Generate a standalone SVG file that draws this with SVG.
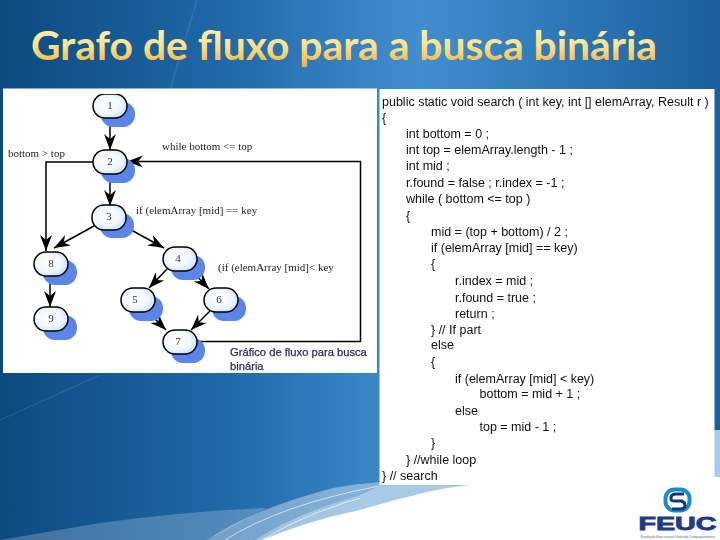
<svg xmlns="http://www.w3.org/2000/svg" width="720" height="540" viewBox="0 0 720 540">
<defs>
<linearGradient id="bg" x1="0" y1="0" x2="1" y2="0"><stop offset="0" stop-color="#0b4a80"/><stop offset="0.3" stop-color="#1f67a6"/><stop offset="0.58" stop-color="#418fcf"/><stop offset="1" stop-color="#1a5f9c"/></linearGradient>
<linearGradient id="title" x1="0" y1="0" x2="0" y2="1"><stop offset="0" stop-color="#fdf6c4"/><stop offset="0.55" stop-color="#fbe18a"/><stop offset="1" stop-color="#f3ab2e"/></linearGradient>
<radialGradient id="node" cx="0.42" cy="0.45" r="0.7"><stop offset="0" stop-color="#ffffff"/><stop offset="0.55" stop-color="#f0f7fe"/><stop offset="1" stop-color="#b8d9f5"/></radialGradient>
<marker id="a" markerWidth="17" markerHeight="14" refX="16" refY="7" orient="auto" markerUnits="userSpaceOnUse"><path d="M0,1 L16,7 L0,13 L5,7 Z" fill="#000"/></marker>
<filter id="soft" x="0" y="0" width="1" height="1"><feGaussianBlur stdDeviation="0.35"/></filter>
</defs>
<style>
.n{fill:url(#node);stroke:#000;stroke-width:1.5}
.s{fill:#5b85ea}
.nt{font:11px "Liberation Serif",serif;fill:#333;text-anchor:middle}
.l{font:11px "Liberation Serif",serif;fill:#222}
.c{font:12.5px "Liberation Sans",sans-serif;fill:#111}
.cap{font:11.2px "Liberation Sans",sans-serif;fill:#2a2a6a;stroke:#2a2a6a;stroke-width:0.25}
.e{fill:none;stroke:#000;stroke-width:1.5;marker-end:url(#a)}
</style>
<rect width="720" height="540" fill="url(#bg)"/>
<path d="M197,0 L170,90" stroke="#6aa6dc" stroke-opacity="0.2" stroke-width="2" fill="none"/>
<path d="M0,420 L100,375" stroke="#6aa6dc" stroke-opacity="0.25" stroke-width="1" fill="none"/>
<path d="M0,540 L100,523 Q187,511 267,508 L207,540 Z" fill="#fff" opacity="0.22"/>
<path d="M207,540 Q250,510 333,488 Q355,484 380,482 V510 L262,540 Z" fill="#fff" opacity="0.38"/>
<path d="M255,540 Q300,510 380,490 V510 L262,540 Z" fill="#fff" opacity="0.3"/>
<path d="M225,540 Q280,505 379,486 M262,540 Q310,510 379,493" fill="none" stroke="#fff" stroke-opacity="0.8" stroke-width="0.8"/>
<path d="M360,510 L470,486 H380 L360,495 Z" fill="#a9cbe6"/>
<path d="M714,430 L720,430 V477 H714 Z" fill="#a9cde8"/>
<path d="M262,540 Q310,520 360,510 Q393,500 427,492 Q450,487 470,485 H714 V477 H720 V540 Z" fill="#fff"/>
<text x="31" y="60" font-family="Lato,'Open Sans',sans-serif" font-weight="700" font-size="41" fill="url(#title)" textLength="626" lengthAdjust="spacingAndGlyphs">Grafo de fluxo para a busca binária</text>
<rect x="3" y="88.500" width="374" height="284.500" fill="#fff"/>
<rect x="379.500" y="89" width="335" height="396.500" fill="#fff"/>
<g filter="url(#soft)">
<g id="connectors">
<path class="e" d="M110,118 V150"/>
<path class="e" d="M110,174 V206"/>
<path class="e" d="M93,162 H46 V251"/>
<path class="e" d="M94,226 L54,248"/>
<path class="e" d="M124,226 L164,248"/>
<path class="e" d="M50,276 V307"/>
<path class="e" d="M167,269 L149,288"/>
<path class="e" d="M190,269 L209,289"/>
<path class="e" d="M147,311 L166,330"/>
<path class="e" d="M210,311 L191,330"/>
<path class="e" d="M197,341.500 H360.500 V161.500 H127"/>
</g>
<g id="node1"><rect class="s" x="101" y="102" width="34" height="25" rx="12"/><rect class="n" x="93" y="94" width="34" height="24" rx="12"/><text class="nt" x="110" y="109">1</text></g>
<g id="node2"><rect class="s" x="101" y="158" width="34" height="25" rx="12"/><rect class="n" x="93" y="150" width="34" height="24" rx="12"/><text class="nt" x="110" y="165">2</text></g>
<g id="node3"><rect class="s" x="100" y="213" width="34" height="25" rx="12"/><rect class="n" x="92" y="205" width="34" height="25" rx="12"/><text class="nt" x="109" y="220">3</text></g>
<g id="node4"><rect class="s" x="171" y="255" width="34" height="25" rx="12"/><rect class="n" x="163" y="247" width="34" height="24" rx="12"/><text class="nt" x="178" y="262">4</text></g>
<g id="node5"><rect class="s" x="129" y="296" width="34" height="25" rx="12"/><rect class="n" x="121" y="288" width="34" height="24" rx="12"/><text class="nt" x="135" y="303">5</text></g>
<g id="node6"><rect class="s" x="212" y="296" width="34" height="25" rx="12"/><rect class="n" x="204" y="288" width="34" height="24" rx="12"/><text class="nt" x="219" y="303">6</text></g>
<g id="node7"><rect class="s" x="171" y="338" width="34" height="25" rx="12"/><rect class="n" x="163" y="330" width="34" height="24" rx="12"/><text class="nt" x="178" y="345">7</text></g>
<g id="node8"><rect class="s" x="43" y="260" width="34" height="25" rx="12"/><rect class="n" x="34" y="252" width="34" height="24" rx="12"/><text class="nt" x="51" y="267">8</text></g>
<g id="node9"><rect class="s" x="43" y="315" width="34" height="25" rx="12"/><rect class="n" x="34" y="307" width="34" height="24" rx="12"/><text class="nt" x="51" y="322">9</text></g>
<g id="labels">
<text class="l" x="8" y="157">bottom &gt; top</text>
<text class="l" x="162" y="150">while bottom &lt;= top</text>
<text class="l" x="136" y="214">if (elemArray [mid] == key</text>
<text class="l" x="218" y="271">(if (elemArray [mid]&lt; key</text>
<text class="cap" x="230" y="355.500">Gráfico de fluxo para busca</text>
<text class="cap" x="230" y="369.500">binária</text>
</g>
<g id="code">
<text class="c" x="382" y="106">public static void search ( int key, int [] elemArray, Result r )</text>
<text class="c" x="382" y="122">{</text>
<text class="c" x="406" y="138">int bottom = 0 ;</text>
<text class="c" x="406" y="154">int top = elemArray.length - 1 ;</text>
<text class="c" x="406" y="170">int mid ;</text>
<text class="c" x="406" y="187">r.found = false ; r.index = -1 ;</text>
<text class="c" x="406" y="203">while ( bottom &lt;= top )</text>
<text class="c" x="406" y="220">{</text>
<text class="c" x="431" y="236">mid = (top + bottom) / 2 ;</text>
<text class="c" x="431" y="252">if (elemArray [mid] == key)</text>
<text class="c" x="431" y="268">{</text>
<text class="c" x="455" y="285">r.index = mid ;</text>
<text class="c" x="455" y="302">r.found = true ;</text>
<text class="c" x="455" y="318">return ;</text>
<text class="c" x="431" y="334">} // If part</text>
<text class="c" x="431" y="349">else</text>
<text class="c" x="431" y="366">{</text>
<text class="c" x="455" y="382.500">if (elemArray [mid] &lt; key)</text>
<text class="c" x="479.500" y="398">bottom = mid + 1 ;</text>
<text class="c" x="455" y="415">else</text>
<text class="c" x="479.500" y="431">top = mid - 1 ;</text>
<text class="c" x="431" y="447">}</text>
<text class="c" x="406" y="464">} //while loop</text>
<text class="c" x="382" y="480">} // search</text>
</g>
</g>
<g id="logo">
<rect x="665.500" y="489.500" width="24" height="21" rx="9" fill="none" stroke="#1a8ac8" stroke-width="4"/>
<path d="M684,494 H676 Q671,494 671,498 V499 Q671,501 675,501 H683 M681,501 Q685,502 685,505 Q685,509 680,509 H672 M675,500 V501" fill="none" stroke="#14367f" stroke-width="3"/>
<text x="677.500" y="530" font-family="'Liberation Sans',sans-serif" font-weight="bold" font-size="19" fill="#1f3a8a" stroke="#1f3a8a" stroke-width="0.9" text-anchor="middle" textLength="78" lengthAdjust="spacingAndGlyphs">FEUC</text>
<text x="678" y="537.500" font-family="'Liberation Sans',sans-serif" font-size="3.500" fill="#5a6a90" text-anchor="middle" textLength="74" lengthAdjust="spacingAndGlyphs">Fundação Educacional Unificada Campograndense</text>
</g>
</svg>
